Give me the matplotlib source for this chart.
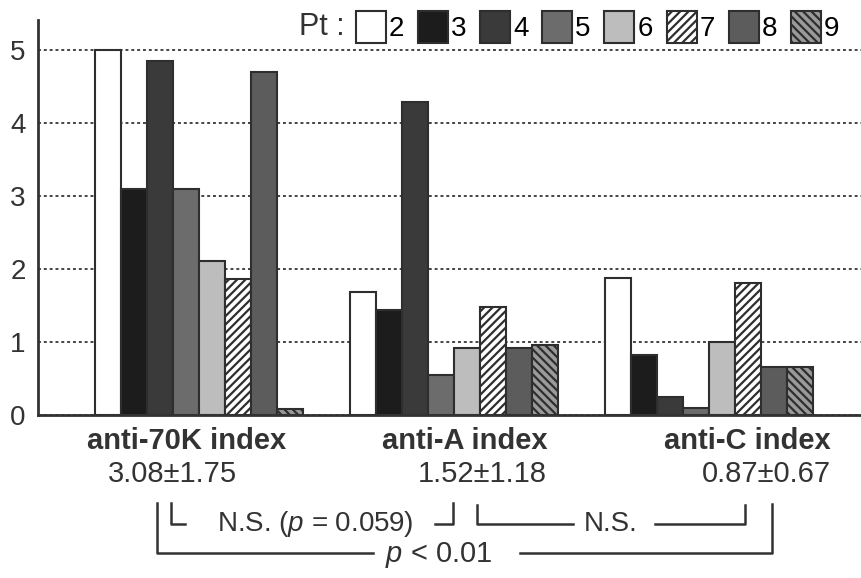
import numpy as np
import matplotlib
matplotlib.use('Agg')
import matplotlib.pyplot as plt
from matplotlib.patches import Patch
from matplotlib.lines import Line2D

plt.rcParams['font.family'] = ['Liberation Sans', 'DejaVu Sans']
plt.rcParams['mathtext.fontset'] = 'custom'
plt.rcParams['mathtext.rm'] = 'Liberation Sans'
plt.rcParams['mathtext.it'] = 'Liberation Sans:italic'
plt.rcParams['hatch.linewidth'] = 1.6

# data
groups = ['anti-70K index', 'anti-A index', 'anti-C index']
group_stats = ['3.08\u00b11.75', '1.52\u00b11.18', '0.87\u00b10.67']
patients = ['2', '3', '4', '5', '6', '7', '8', '9']
values = {
    '2': [5.00, 1.68, 1.88],
    '3': [3.10, 1.44, 0.82],
    '4': [4.85, 4.29, 0.25],
    '5': [3.09, 0.55, 0.09],
    '6': [2.11, 0.92, 1.00],
    '7': [1.86, 1.48, 1.81],
    '8': [4.70, 0.92, 0.66],
    '9': [0.08, 0.96, 0.66],
}
yticks = [0, 1, 2, 3, 4, 5]

# greyscale styles per patient
faces = ['white', '#1c1c1c', '#3a3a3a', '#6c6c6c', '#bdbdbd', 'white', '#5c5c5c', '#9a9a9a']
hatches = [None, None, None, None, None, '////', None, r'\\\\']
edge = '#2e2e2e'

W, H = 861, 578
fig = plt.figure(figsize=(W / 100, H / 100), dpi=100)
ax = fig.add_axes([38 / W, (H - 415) / H, 823 / W, 395 / H])

x = np.arange(len(groups))
bw = 0.102
for i, p in enumerate(patients):
    ax.bar(x + (i - 3.5) * bw, values[p], width=bw, color=faces[i], edgecolor=edge,
           linewidth=1.5, hatch=hatches[i], zorder=3, label=p)

ax.set_xlim(-0.631, 2.596)
ax.set_ylim(0, 5.41)
ax.set_yticks(yticks)
ax.set_xticks([])
ax.tick_params(axis='y', length=0, pad=9, labelsize=20, labelcolor='#333333')
ax.yaxis.grid(True, color='#444444', linestyle=(0, (1.5, 1.5)), linewidth=1.4, zorder=1)
for s in ['top', 'right']:
    ax.spines[s].set_visible(False)
for s in ['left', 'bottom']:
    ax.spines[s].set_color('#333333')
    ax.spines[s].set_linewidth(2)
    ax.spines[s].set_zorder(4)

# legend across the top
handles = [Patch(facecolor=faces[i], edgecolor=edge, hatch=hatches[i], linewidth=1.5)
           for i in range(len(patients))]
fig.legend(handles, patients, loc='center right', bbox_to_anchor=(839 / W, 1 - 27 / H),
           ncol=8, frameon=False, fontsize=20, handlelength=1.08, handleheight=1.35,
           handletextpad=0.1, columnspacing=0.5, borderpad=0, borderaxespad=0)
fig.text(299 / W, 1 - 27 / H, 'Pt :', fontsize=22, ha='left', va='center', color='#333333')


def fx(px):
    return px / W


def fy(py):
    return 1 - py / H


# labels and means under each group
label_x = [187, 465, 747]
stat_x = [172, 482, 766]
for lx, sx, g, st in zip(label_x, stat_x, groups, group_stats):
    fig.text(fx(lx), fy(441), g, fontsize=21, fontweight='bold', ha='center', va='center',
             color='#333333')
    fig.text(fx(sx), fy(474), st, fontsize=21, ha='center', va='center', color='#333333')


def bracket(pts):
    xs = [fx(p[0]) for p in pts]
    ys = [fy(p[1]) for p in pts]
    fig.add_artist(Line2D(xs, ys, color='#333333', linewidth=1.8))


bracket([(157, 503), (157, 553), (373, 553)])
bracket([(520, 553), (772, 553), (772, 504)])
bracket([(171, 503), (171, 524), (185, 524)])
bracket([(435, 524), (453, 524), (453, 503)])
bracket([(477, 505), (477, 524), (573, 524)])
bracket([(655, 524), (745, 524), (745, 505)])

fig.text(fx(315), fy(524), 'N.S. ($\\mathit{p}$ = 0.059)', fontsize=20, ha='center', va='center',
         color='#333333')
fig.text(fx(611), fy(524), 'N.S.', fontsize=20, ha='center', va='center', color='#333333')
fig.text(fx(439), fy(555), '$\\mathit{p}$ < 0.01', fontsize=21, ha='center', va='center',
         color='#333333')

fig.savefig('out.png', dpi=100)
